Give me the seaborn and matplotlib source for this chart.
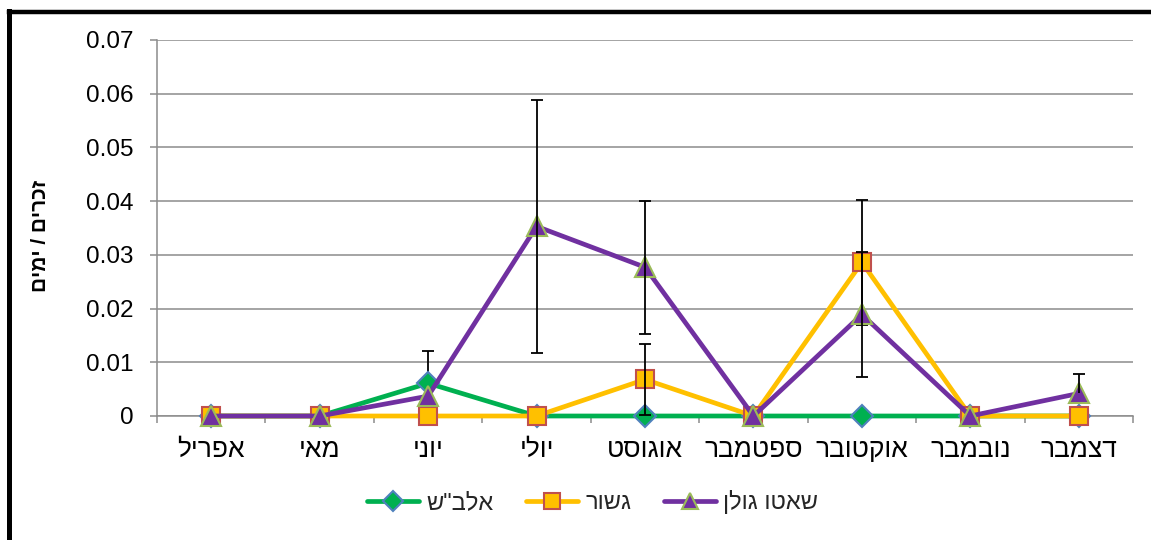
import numpy as np
import pandas as pd
import matplotlib
matplotlib.use("Agg")
import matplotlib.pyplot as plt
from matplotlib.lines import Line2D
from matplotlib.ticker import FixedLocator, FuncFormatter
import seaborn as sns

# ---------------- data ----------------
months = ["אפריל", "מאי", "יוני", "יולי", "אוגוסט", "ספטמבר", "אוקטובר", "נובמבר", "דצמבר"]
series_names = ['אלב"ש', "גשור", "שאטו גולן"]
albash = [0, 0, 0.0061, 0, 0, 0, 0, 0, 0]
albash_err_plus = [0, 0, 0.0060, 0, 0, 0, 0, 0, 0]
albash_err_minus = [0, 0, 0, 0, 0, 0, 0, 0, 0]
geshur = [0, 0, 0, 0, 0.0068, 0, 0.0286, 0, 0]
geshur_err_plus = [0, 0, 0, 0, 0.0066, 0, 0.0116, 0, 0]
geshur_err_minus = [0, 0, 0, 0, 0.0066, 0, 0.0116, 0, 0]
chateau = [0, 0, 0.0037, 0.0353, 0.0277, 0, 0.0189, 0, 0.0042]
chateau_err_plus = [0, 0, 0, 0.0235, 0.0124, 0, 0.0116, 0, 0.0036]
chateau_err_minus = [0, 0, 0, 0.0235, 0.0124, 0, 0.0116, 0, 0]
y_label = "זכרים / ימים"
y_ticks = [0, 0.01, 0.02, 0.03, 0.04, 0.05, 0.06, 0.07]


def vis(s):
    # matplotlib has no bidi support: give Hebrew in visual order
    return s[::-1]


sns.set_theme(style="white")
FONT = ["Liberation Sans", "DejaVu Sans"]
plt.rcParams["font.family"] = FONT

fig = plt.figure(figsize=(11.51, 5.40), dpi=100)
ax = fig.add_axes([157 / 1151, 1 - 416 / 540, (1133 - 157) / 1151, (416 - 40) / 540])

x = np.arange(len(months))
df = pd.DataFrame({"x": x, "albash": albash, "geshur": geshur, "chateau": chateau})

styles = [
    ("albash", albash_err_minus, albash_err_plus, "#00B050", "D", "#00B050", "#4F81BD", 11, 10.5),
    ("geshur", geshur_err_minus, geshur_err_plus, "#FFC000", "s", "#FFC000", "#C0504D", 13, 12),
    ("chateau", chateau_err_minus, chateau_err_plus, "#7030A0", "^", "#7030A0", "#9BBB59", 14, 12),
]

handles = []
z = 3
for (col, emin, eplus, color, mk, mfc, mec, ms, lms), name in zip(styles, series_names):
    n_before = len(ax.lines)
    sns.lineplot(data=df, x="x", y=col, ax=ax, color=color, linewidth=3.4,
                 marker=mk, markersize=ms, markerfacecolor=mfc,
                 markeredgecolor=mec, markeredgewidth=1.5,
                 legend=False, clip_on=False)
    for ln in ax.lines[n_before:]:
        ln.set_zorder(z)
        ln.set_clip_on(False)
    emin = np.asarray(emin)
    eplus = np.asarray(eplus)
    vals = df[col].to_numpy()
    ez = z - 0.5 if col == "albash" else z + 0.5
    # symmetric error bars
    m = (eplus > 0) & (emin > 0)
    if m.any():
        ax.errorbar(x[m], vals[m], yerr=[emin[m], eplus[m]], fmt="none", ecolor="black",
                    elinewidth=1.3, capsize=4.5, capthick=1.3, zorder=ez)
    # plus-only error bars
    m = (eplus > 0) & (emin == 0)
    if m.any():
        _, caps, _ = ax.errorbar(x[m], vals[m], yerr=[emin[m], eplus[m]], fmt="none",
                                 ecolor="black", elinewidth=1.3, capsize=4.5,
                                 capthick=1.3, zorder=ez)
        caps[0].set_visible(False)
    handles.append(Line2D([], [], color=color, linewidth=3.4, marker=mk,
                          markersize=lms, markerfacecolor=mfc,
                          markeredgecolor=mec, markeredgewidth=1.5,
                          label=vis(name)))
    z += 1

# axes styling
ax.set_xlim(-0.5, len(months) - 0.5)
ax.set_ylim(0, 0.07)
ax.yaxis.set_major_locator(FixedLocator(y_ticks))
ax.yaxis.set_major_formatter(FuncFormatter(lambda v, p: "0" if abs(v) < 1e-12 else f"{v:.2f}"))
ax.grid(axis="y", color="#8C8C8C", linewidth=1.1)
ax.grid(axis="x", visible=False)
ax.set_axisbelow(True)
for s in ["top", "right"]:
    ax.spines[s].set_visible(False)
for s in ["left", "bottom"]:
    ax.spines[s].set_visible(True)
    ax.spines[s].set_color("#8C8C8C")
    ax.spines[s].set_linewidth(1.1)

ax.set_xticks(x)
ax.set_xticklabels([vis(m) for m in months], fontsize=19, color="black")
ax.set_xticks(np.arange(len(months) + 1) - 0.5, minor=True)
ax.tick_params(axis="x", which="major", length=0, pad=16)
ax.tick_params(axis="x", which="minor", length=5, width=1.1, color="#8C8C8C", direction="out", bottom=True)
ax.tick_params(axis="y", which="major", length=5, width=1.1, color="#8C8C8C", direction="out",
               labelsize=17.5, labelcolor="black", pad=12, left=True)

ax.set_xlabel("")
ax.set_ylabel(vis(y_label), fontsize=15, fontweight="bold", color="black")
ax.yaxis.set_label_coords(-0.11, 0.48)

fig.legend(handles=handles, loc="center", bbox_to_anchor=(0.515, 1 - 502 / 540),
           ncol=3, frameon=False, fontsize=17, handlelength=2.2,
           columnspacing=1.4, handletextpad=0.3)

# outer black frame (left and top edges visible)
fig.add_artist(Line2D([8.5 / 1151, 8.5 / 1151], [0, 1 - 11 / 540], transform=fig.transFigure,
                      color="black", linewidth=3.6, solid_capstyle="projecting"))
fig.add_artist(Line2D([8.5 / 1151, 1], [1 - 11.5 / 540, 1 - 11.5 / 540], transform=fig.transFigure,
                      color="black", linewidth=3.2, solid_capstyle="projecting"))

fig.savefig("out.png", dpi=100, facecolor="white")
